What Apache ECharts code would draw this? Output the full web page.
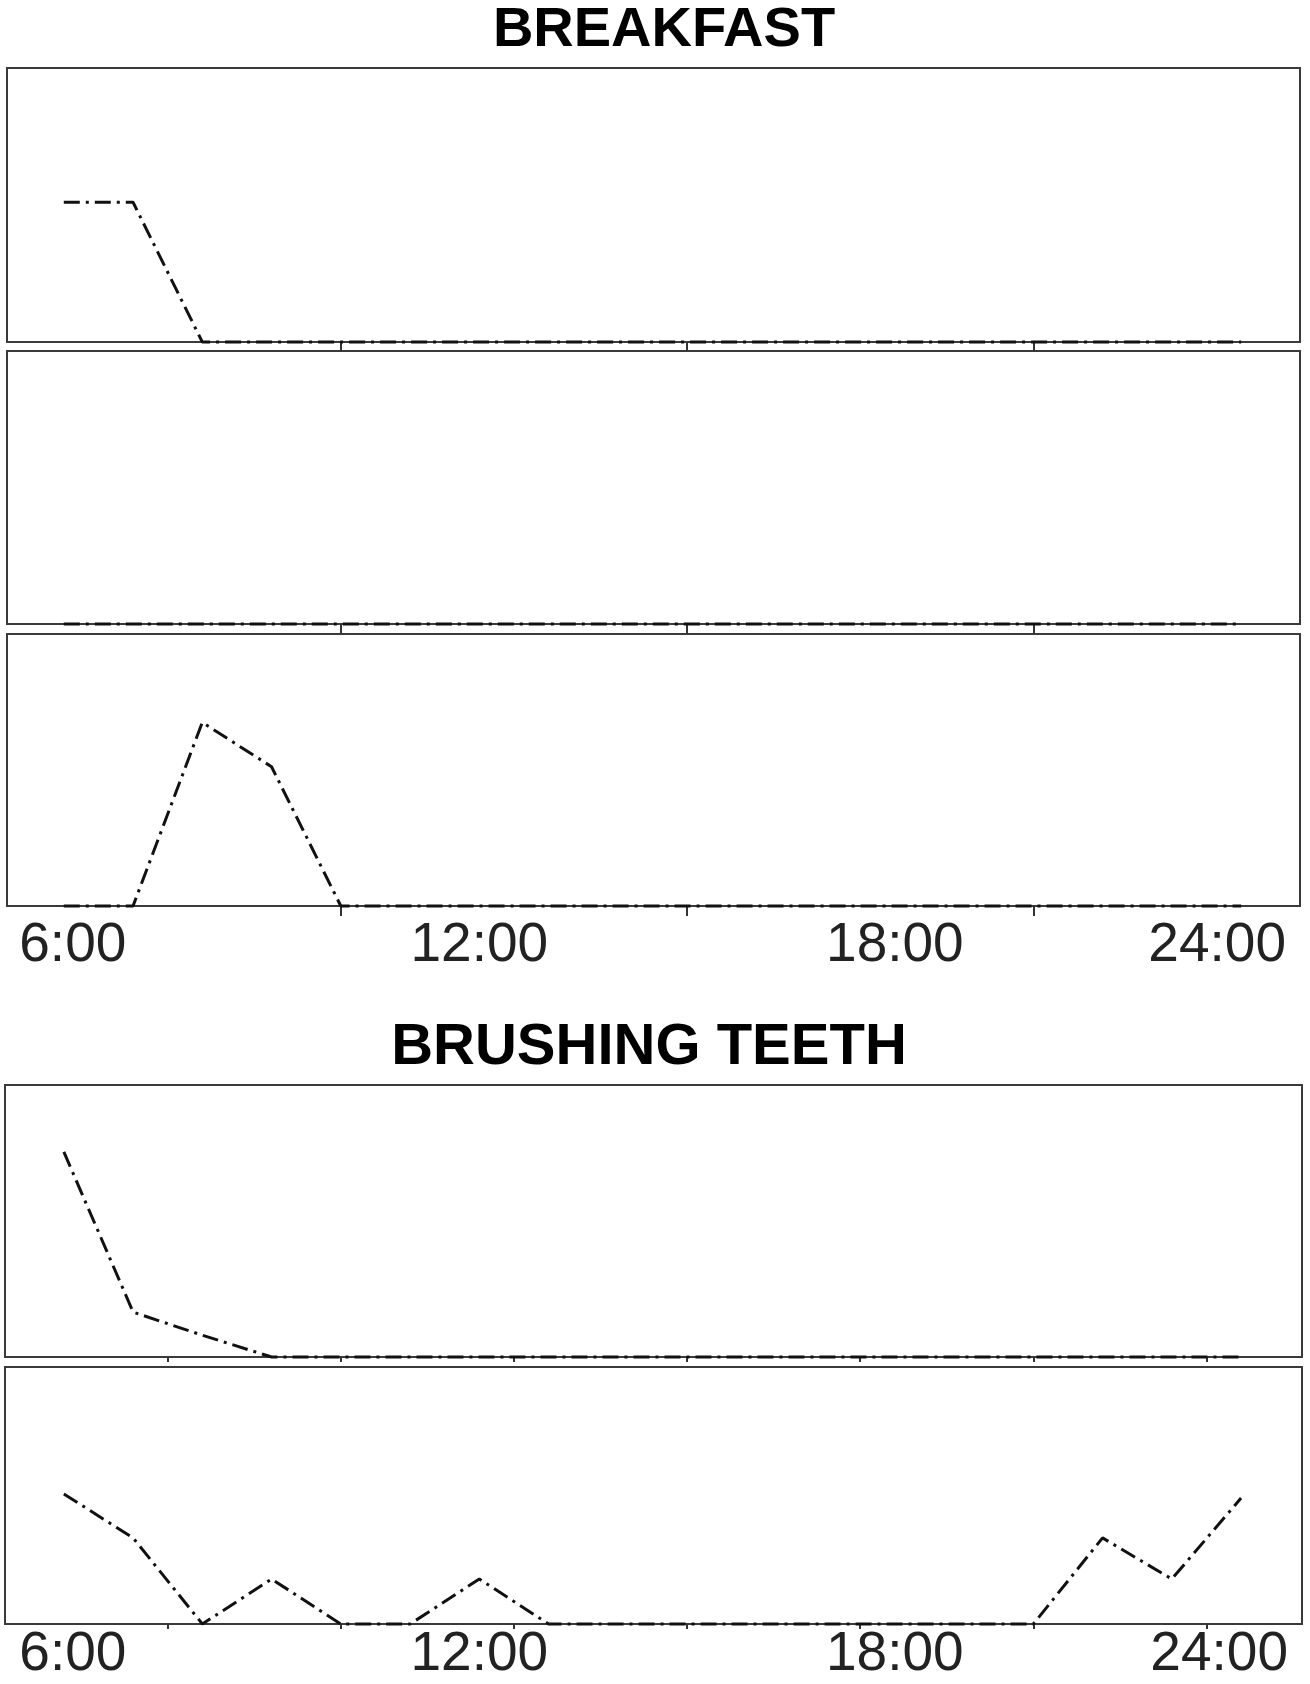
<!DOCTYPE html>
<html>
<head>
<meta charset="utf-8">
<script src="https://cdn.jsdelivr.net/npm/echarts@6/dist/echarts.min.js"></script>
<style>
  html, body { margin: 0; padding: 0; background: #fff; }
  #chart { width: 1310px; height: 1684px; }
</style>
</head>
<body>
<div id="chart"></div>
<script>
// hours of the day, one point per hour
const hours = [6, 7, 8, 9, 10, 11, 12, 13, 14, 15, 16, 17, 18, 19, 20, 21, 22, 23];

// BREAKFAST, three rows (relative level 0..1)
const breakfastA = [0.51, 0.51, 0, 0, 0, 0, 0, 0, 0, 0, 0, 0, 0, 0, 0, 0, 0, 0];
const breakfastB = [0, 0, 0, 0, 0, 0, 0, 0, 0, 0, 0, 0, 0, 0, 0, 0, 0, 0];
const breakfastC = [0, 0, 0.675, 0.512, 0, 0, 0, 0, 0, 0, 0, 0, 0, 0, 0, 0, 0, 0];

// BRUSHING TEETH, two rows
const brushingA = [0.754, 0.165, 0.08, 0, 0, 0, 0, 0, 0, 0, 0, 0, 0, 0, 0, 0, 0, 0];
const brushingB = [0.506, 0.335, 0, 0.175, 0, 0, 0.175, 0, 0, 0, 0, 0, 0, 0, 0, 0.335, 0.175, 0.49];

// tick marks and labels
const topTicks = [10, 15, 20];
const bottomTicks = [7.5, 10, 12.5, 15, 17.5, 20, 22.5];
const tickLabels = ['6:00', '12:00', '18:00', '24:00'];

const titles = ['BREAKFAST', 'BRUSHING TEETH'];

// panel layout (pixels)
const panels = [
    { data: breakfastA, left: 7, top: 68,   width: 1293, height: 274, min: 5.18, max: 23.85, ticks: topTicks, tickLen: 9,  labels: false },
    { data: breakfastB, left: 7, top: 351,  width: 1293, height: 273, min: 5.18, max: 23.85, ticks: topTicks, tickLen: 9,  labels: false },
    { data: breakfastC, left: 7, top: 634,  width: 1293, height: 272, min: 5.18, max: 23.85, ticks: topTicks, tickLen: 10, labels: true, margin: 12 },
    { data: brushingA,  left: 5, top: 1085, width: 1297, height: 272, min: 5.15, max: 23.88, ticks: bottomTicks, tickLen: 5, labels: false },
    { data: brushingB,  left: 5, top: 1367, width: 1297, height: 257, min: 5.15, max: 23.88, ticks: bottomTicks, tickLen: 5, labels: true, margin: 3 }
];

const font = 'Liberation Sans, Arial, Helvetica, sans-serif';

// small nudges so the first and last labels sit like the original
const labelRich = {
    first: { fontFamily: font, fontSize: 55, color: '#222', padding: [0, 0, 0, 18] },
    mid: { fontFamily: font, fontSize: 55, color: '#222' },
    last: { fontFamily: font, fontSize: 55, color: '#222', padding: [0, 14, 0, 0] }
};

const grid = [], xAxis = [], yAxis = [], series = [];
panels.forEach((p, i) => {
    grid.push({
        left: p.left, top: p.top, width: p.width, height: p.height,
        show: true, borderColor: '#3a3a3a', borderWidth: 2, backgroundColor: 'transparent'
    });
    xAxis.push({
        type: 'value', gridIndex: i, min: p.min, max: p.max,
        axisLine: { show: false },
        splitLine: { show: false },
        axisTick: { show: true, inside: false, length: p.tickLen, customValues: p.ticks,
            lineStyle: { color: '#333', width: 2 } },
        axisLabel: {
            show: p.labels, margin: p.margin || 0,
            customValues: [hours[0], 12, 18, p.max],
            alignMaxLabel: 'right',
            hideOverlap: false,
            fontFamily: font, fontSize: 55, color: '#222',
            rich: labelRich,
            formatter: v => {
                const k = Math.round((v - hours[0]) / 6);
                const key = k === 0 ? 'first' : (k === tickLabels.length - 1 ? 'last' : 'mid');
                return '{' + key + '|' + tickLabels[k] + '}';
            }
        }
    });
    yAxis.push({
        type: 'value', gridIndex: i, min: 0, max: 1, show: false
    });
    series.push({
        type: 'line', xAxisIndex: i, yAxisIndex: i,
        data: hours.map((h, k) => [h, p.data[k]]),
        symbol: 'none', clip: false,
        lineStyle: { color: '#111', width: 3, type: [16, 6, 3, 6] }
    });
});

const chart = echarts.init(document.getElementById('chart'));
chart.setOption({
    animation: false,
    backgroundColor: '#fff',
    title: [
        { text: titles[0], left: 659, top: -2, textAlign: 'center',
          textStyle: { fontFamily: font, fontWeight: 'bold', fontSize: 56, color: '#000' } },
        { text: titles[1], left: 644, top: 1014, textAlign: 'center',
          textStyle: { fontFamily: font, fontWeight: 'bold', fontSize: 58, color: '#000' } }
    ],
    grid: grid,
    xAxis: xAxis,
    yAxis: yAxis,
    series: series
});
</script>
</body>
</html>
